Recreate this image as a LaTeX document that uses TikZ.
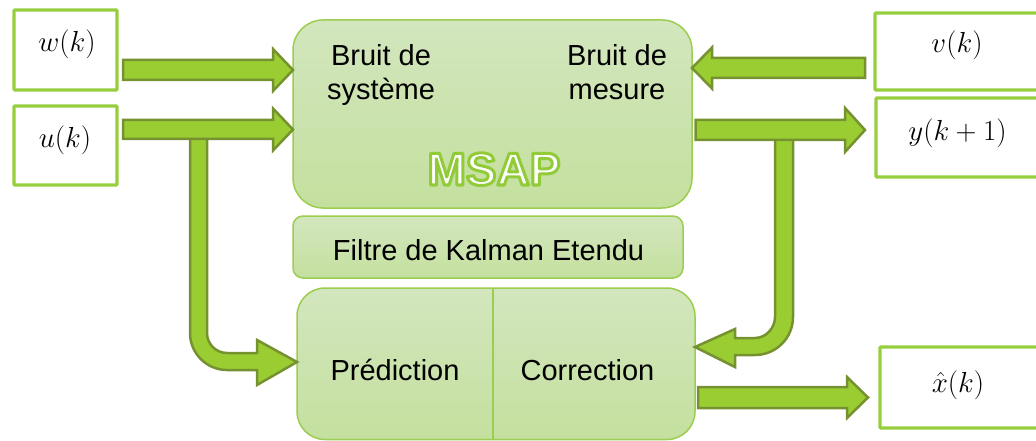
\RequirePackage{fix-cm}
\documentclass[tikz,border=0pt]{standalone}
\usepackage{fontspec}
\setmainfont{Liberation Sans}
\usetikzlibrary{calc}

\definecolor{arrowfill}{RGB}{154,205,50}
\definecolor{arrowline}{RGB}{118,146,48}
\definecolor{boxline}{RGB}{150,206,62}
\definecolor{paneltop}{RGB}{211,230,190}
\definecolor{panelbot}{RGB}{196,224,158}
\definecolor{panelline}{RGB}{155,205,80}

% straight block arrow: #1 tail, #2 tip, #3 half shaft, #4 head length, #5 half head
\newcommand\harrow[5]{%
  \path (#2) coordinate (ha-tip) ($(#2)!#4!(#1)$) coordinate (ha-base);
  \draw[blockarrow] ($(#1)+(0,#3)$) -- ($(ha-base)+(0,#3)$) -- ($(ha-base)+(0,#5)$)
    -- (ha-tip) -- ($(ha-base)+(0,-#5)$) -- ($(ha-base)+(0,-#3)$) -- ($(#1)+(0,-#3)$) -- cycle;}

% white letters with a green outline (fill + stroke rendering mode, round joins)
\newcommand\outlined[1]{%
  \special{pdf:literal direct 2 Tr 3 w 1 j 0.57 0.80 0.22 RG}#1\special{pdf:literal direct 0 Tr 0 j}}

\begin{document}
\begin{tikzpicture}[x=1pt,y=-1pt,
  every node/.style={inner sep=0pt, outer sep=0pt},
  lbl/.style={font=\fontsize{29}{34}\selectfont, align=center},
  mathlbl/.style={font=\fontsize{29}{32}\selectfont, anchor=base},
  iobox/.style={draw=boxline, line width=3.3pt, fill=white, rounded corners=1pt},
  panel/.style={draw=panelline, line width=1.5pt, top color=paneltop, bottom color=panelbot},
  blockarrow/.style={fill=arrowfill, draw=arrowline, line width=2.5pt, line join=miter},
]
\useasboundingbox (0,0) rectangle (1036,441);

% central panels
\node[panel, rounded corners=30pt, minimum width=399pt, minimum height=188pt] (msap) at (492.5,114) {};
\node[panel, rounded corners=10pt, minimum width=390pt, minimum height=62pt] (ekf) at (488,247) {};
\node[panel, rounded corners=28pt, minimum width=398pt, minimum height=151.5pt] (est) at (496,363.75) {};
\draw[panelline, line width=1.5pt] (est.north -| 493,0) -- (est.south -| 493,0);

% panel texts
\node[lbl, anchor=base] (sysnoise) at (381,100) {Bruit de\\système};
\node[lbl, anchor=base] (measnoise) at (617,100) {Bruit de\\mesure};
\node[lbl, anchor=base] (ekftext) at (488.5,260) {Filtre de Kalman Etendu};
\node[lbl, anchor=base] (pred) at (395,380) {Prédiction};
\node[lbl, anchor=base] (corr) at (587.5,380) {Correction};

% title
\node[anchor=base, font=\fontsize{46}{50}\selectfont\bfseries, text=white] (msaptitle) at (494,185) {\outlined{MSAP}};

% input / output boxes
\node[iobox, minimum width=103pt, minimum height=80pt] (wbox) at (65.5,50) {};
\node[iobox, minimum width=103pt, minimum height=79pt] (ubox) at (65.5,145.5) {};
\node[iobox, minimum width=165pt, minimum height=77pt] (vbox) at (957.5,51.5) {};
\node[iobox, minimum width=164pt, minimum height=79pt] (ybox) at (958,137.5) {};
\node[iobox, minimum width=160pt, minimum height=81pt] (xbox) at (960,387.5) {};

\node[mathlbl] (wlab) at (67,51.5) {$w(k)$};
\node[mathlbl] (ulab) at (65,147.5) {$u(k)$};
\node[mathlbl] (vlab) at (957,52.5) {$v(k)$};
\node[mathlbl] (ylab) at (957.5,140.5) {$y(k+1)$};
\node[mathlbl] (xlab) at (958,392.5) {$\hat{x}(k)$};

% arrow anchor points
\coordinate (w-tail) at ($(wbox.east)+(6,20)$);
\coordinate (u-tail) at ($(ubox.east)+(6,-16)$);
\coordinate (v-tail) at ($(vbox.west)+(-10,16.5)$);
\coordinate (y-tail) at ($(msap.east)+(3.5,16)$);
\coordinate (y-tip) at ($(ybox.west |- y-tail)+(-11,0)$);
\coordinate (x-tail) at ($(est.east)+(3,33.75)$);
\coordinate (x-tip) at ($(xbox.west |- x-tail)+(-12,0)$);
\coordinate (pred-in) at (est.west |- 0,362);
\coordinate (corr-in) at (est.east |- 0,347);

% bent arrow: input branch to the prediction step
\draw[blockarrow] (190,135) -- (207,135) -- (207,333)
  .. controls (207,344) and (216,353) .. (227,353) -- (257,353) -- (257,340)
  -- (pred-in) -- (257,385) -- (257,370) -- (227,370)
  .. controls (206.6,370) and (190,353.4) .. (190,333) -- cycle;

% bent arrow: measured output to the correction step
\draw[blockarrow] (775,135) -- (793,135) -- (793,317)
  .. controls (793,338) and (776,355) .. (755,355) -- (735,355) -- (735,367)
  -- (corr-in) -- (735,329) -- (735,338) -- (755,338)
  .. controls (766,338) and (775,328) .. (775,317) -- cycle;

% straight arrows
\harrow{w-tail}{msap.west |- w-tail}{10}{20pt}{21}
\harrow{u-tail}{msap.west |- u-tail}{9.5}{20pt}{21}
\harrow{v-tail}{msap.east |- v-tail}{10}{20pt}{20.5}
\harrow{y-tail}{y-tip}{10}{20pt}{22}
\harrow{x-tail}{x-tip}{10.5}{21pt}{20.5}
\end{tikzpicture}
\end{document}
